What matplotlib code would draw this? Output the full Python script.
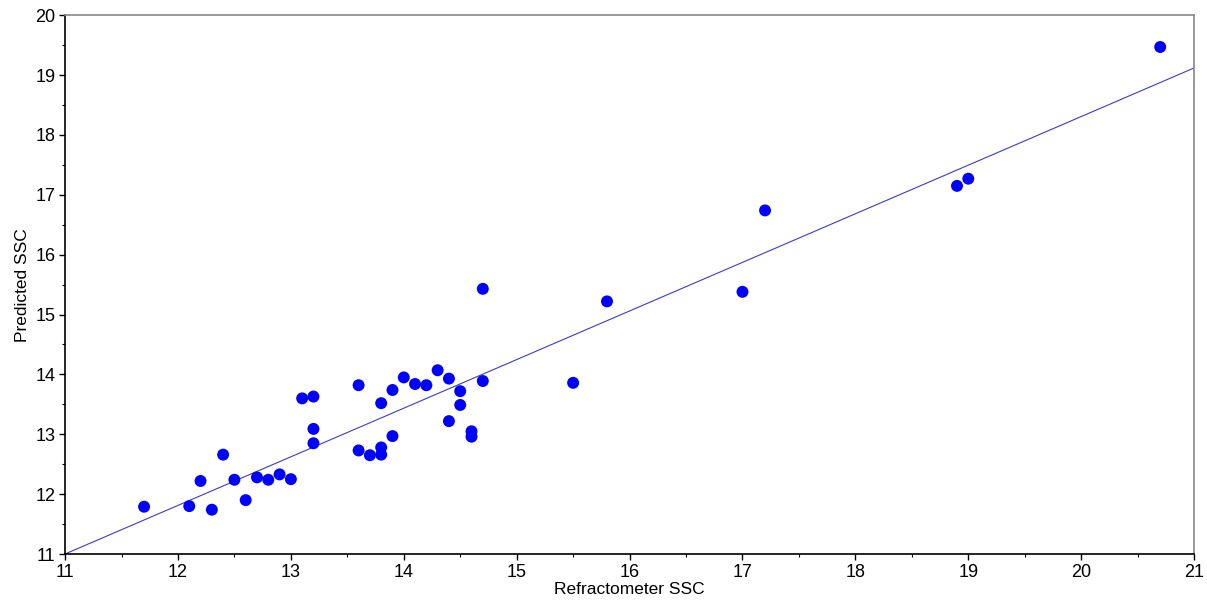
import numpy as np
import matplotlib.pyplot as plt
from matplotlib.ticker import MultipleLocator

plt.rcParams['font.family'] = ['Liberation Sans', 'DejaVu Sans']

# refractometer vs predicted SSC
measured = [11.7, 12.1, 12.2, 12.3, 12.4, 12.5, 12.6, 12.7, 12.8, 12.9, 13.0,
            13.1, 13.2, 13.2, 13.2, 13.6, 13.6, 13.7, 13.8, 13.8, 13.8, 13.9,
            13.9, 14.0, 14.1, 14.2, 14.3, 14.4, 14.4, 14.5, 14.5, 14.6, 14.6,
            14.7, 14.7, 15.5, 15.8, 17.0, 17.2, 18.9, 19.0, 20.7]
predicted = [11.79, 11.80, 12.22, 11.74, 12.66, 12.24, 11.90, 12.28, 12.24, 12.33, 12.25,
             13.60, 13.63, 13.09, 12.85, 13.82, 12.73, 12.65, 13.52, 12.78, 12.66, 13.74,
             12.97, 13.95, 13.84, 13.82, 14.07, 13.93, 13.22, 13.72, 13.49, 13.05, 12.96,
             15.43, 13.89, 13.86, 15.22, 15.38, 16.74, 17.15, 17.27, 19.47]

# fitted line end points
fit_x = [11, 21]
fit_y = [11.0, 19.12]

fig = plt.figure(figsize=(12.07, 6.06), dpi=100)
ax = fig.add_axes([0.0539, 0.0858, 0.9354, 0.889])

ax.plot(fit_x, fit_y, color='#3c3cd0', lw=0.8, zorder=2)
ax.scatter(measured, predicted, s=74, color='#0000ff', edgecolors='none', zorder=3)

ax.set_xlim(11, 21)
ax.set_ylim(11, 20)
ax.xaxis.set_major_locator(MultipleLocator(1))
ax.yaxis.set_major_locator(MultipleLocator(1))
ax.xaxis.set_minor_locator(MultipleLocator(0.5))
ax.yaxis.set_minor_locator(MultipleLocator(0.5))
ax.tick_params(which='major', direction='out', length=4, width=1, labelsize=13, pad=3)
ax.tick_params(which='minor', direction='out', length=2.5, width=0.8)

for s in ['left', 'bottom']:
    ax.spines[s].set_color('black')
    ax.spines[s].set_linewidth(1.2)
for s in ['top', 'right']:
    ax.spines[s].set_color('#888888')
    ax.spines[s].set_linewidth(1.2)

ax.set_xlabel('Refractometer SSC', fontsize=12.5, labelpad=1)
ax.set_ylabel('Predicted SSC', fontsize=12.5, labelpad=4)

plt.savefig('out.png', dpi=100)
